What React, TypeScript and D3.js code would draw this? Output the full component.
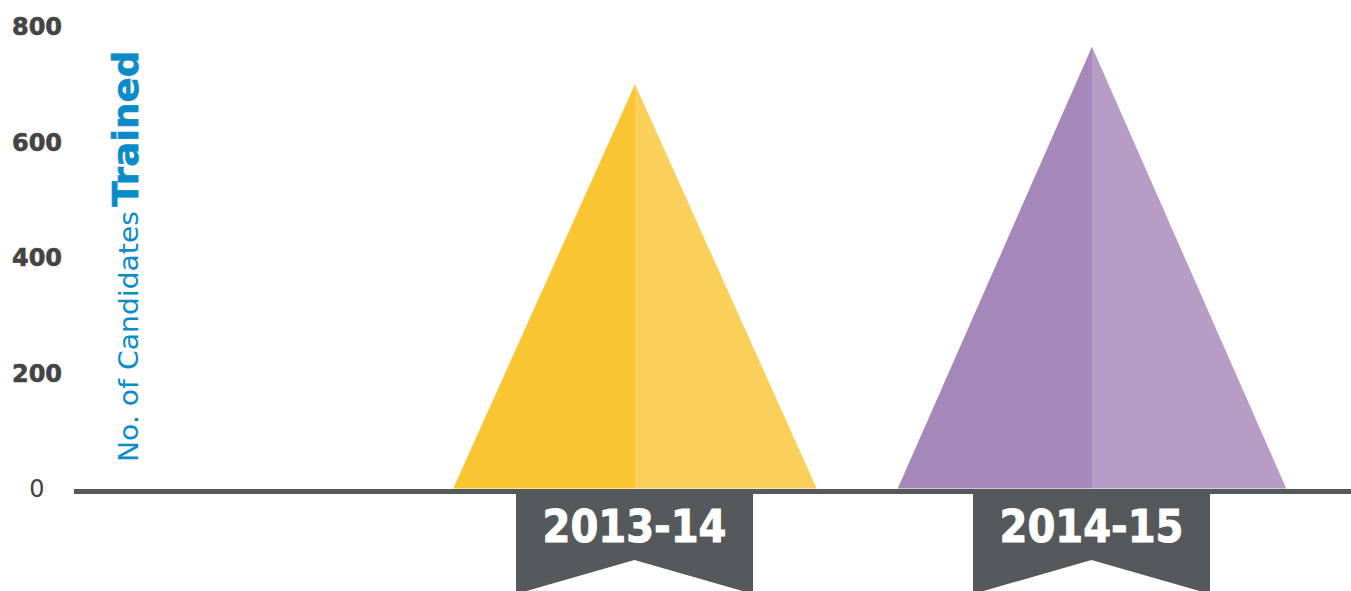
import React from "react";
import * as d3 from "d3";

const years = ["2013-14", "2014-15"];
const trained = [700, 765];
const yTicks = [0, 200, 400, 600, 800];
const darkColors = ["#f9c532", "#a588b9"];
const lightColors = ["#fad05b", "#b79dc6"];

const W = 1351;
const H = 591;

export default function App() {
  const y = d3.scaleLinear().domain([0, 800]).range([488.5, 26.5]);
  const x = d3.scaleBand<string>().domain(years).range([406.5, 1320.5]);
  const halfW = d3.scaleLinear().domain([0, 800]).range([47, 201]);
  const base = y(0);
  const grey = "#55595b";
  const bannerHalf = 118.5;

  return (
    <div style={{ position: "fixed", left: 0, top: 0 }}>
      <svg width={W} height={H} style={{ display: "block", background: "#fff" }}>
        {years.map((yr, i) => {
          const cx = (x(yr) as number) + x.bandwidth() / 2;
          const top = y(trained[i]);
          const hw = halfW(trained[i]);
          const leftPath = d3.path();
          leftPath.moveTo(cx, top);
          leftPath.lineTo(cx - hw, base);
          leftPath.lineTo(cx, base);
          leftPath.closePath();
          const rightPath = d3.path();
          rightPath.moveTo(cx, top);
          rightPath.lineTo(cx + hw, base);
          rightPath.lineTo(cx, base);
          rightPath.closePath();
          return (
            <g key={yr}>
              <path d={leftPath.toString()} fill={darkColors[i]} />
              <path d={rightPath.toString()} fill={lightColors[i]} />
            </g>
          );
        })}
        <rect x={74} y={489} width={W - 74} height={5} fill={grey} />
        {years.map((yr) => {
          const cx = (x(yr) as number) + x.bandwidth() / 2 - 0.5;
          const p = d3.path();
          p.moveTo(cx - bannerHalf, 489);
          p.lineTo(cx + bannerHalf, 489);
          p.lineTo(cx + bannerHalf, 594);
          p.lineTo(cx, 560);
          p.lineTo(cx - bannerHalf, 594);
          p.closePath();
          return (
            <g key={"b" + yr}>
              <path d={p.toString()} fill={grey} />
              <text
                x={cx}
                y={541.5}
                textAnchor="middle"
                fill="#ffffff"
                stroke="#ffffff"
                strokeWidth={1}
                fontFamily="'DejaVu Sans', sans-serif"
                fontWeight={700}
                fontSize={44}
                textLength={184}
                lengthAdjust="spacingAndGlyphs"
              >
                {yr}
              </text>
            </g>
          );
        })}
        {yTicks.map((t) => (
          <text
            key={t}
            x={37}
            y={y(t)}
            dy="0.36em"
            textAnchor="middle"
            fill="#444444"
            stroke={t === 0 ? "none" : "#444444"}
            strokeWidth={0.6}
            fontFamily="'DejaVu Sans', sans-serif"
            fontWeight={t === 0 ? 400 : 700}
            fontSize={24}
          >
            {t}
          </text>
        ))}
        <text
          transform="translate(138,462) rotate(-90)"
          fill="#0b8bc8"
          fontFamily="'DejaVu Sans', sans-serif"
          fontSize={27}
          textLength={251}
          lengthAdjust="spacingAndGlyphs"
        >
          No. of Candidates
        </text>
        <text
          transform="translate(138,206.5) rotate(-90)"
          fill="#0b8bc8"
          stroke="#0b8bc8"
          strokeWidth={0.6}
          fontFamily="'DejaVu Sans', sans-serif"
          fontWeight={700}
          fontSize={36}
          textLength={156}
          lengthAdjust="spacingAndGlyphs"
        >
          Trained
        </text>
      </svg>
    </div>
  );
}
